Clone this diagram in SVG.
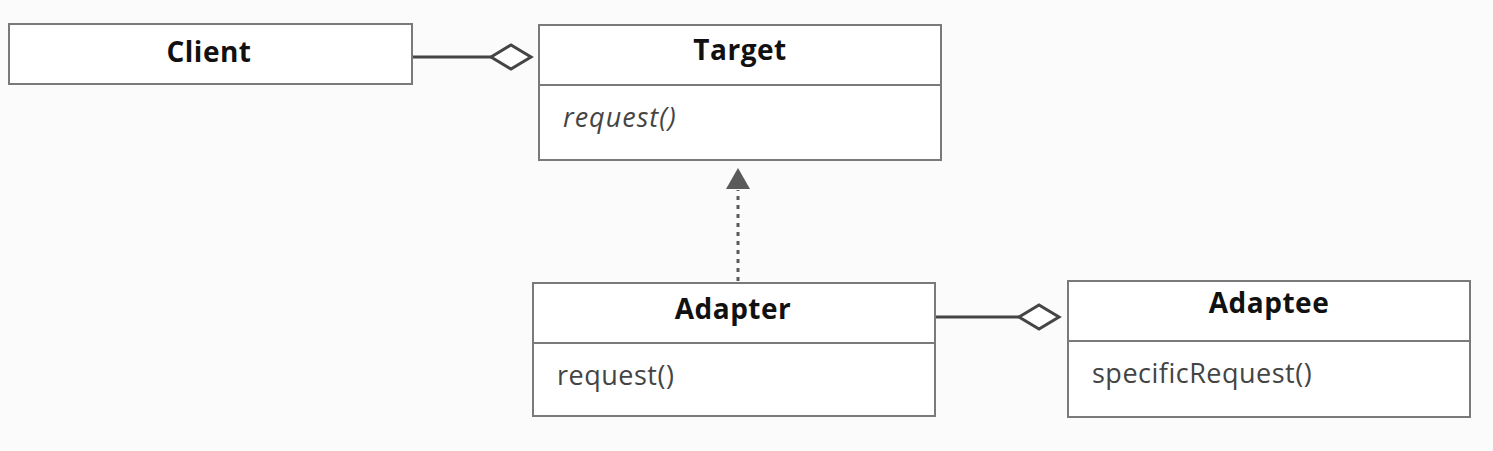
<svg xmlns="http://www.w3.org/2000/svg" width="1493" height="451" viewBox="0 0 1493 451">
<style>
.box{fill:#ffffff;stroke:#7a7a7a;stroke-width:2}
.div{stroke:#7a7a7a;stroke-width:2}
.title{font-family:"Open Sans","Noto Sans","Liberation Sans",sans-serif;font-weight:bold;font-size:28px;letter-spacing:0.5px;fill:#111;text-anchor:middle}
.op{font-family:"Open Sans","Noto Sans","Liberation Sans",sans-serif;font-size:27px;letter-spacing:0.5px;fill:#444}
.it{font-style:italic;letter-spacing:1px}
.assoc{stroke:#454545;stroke-width:3;fill:none}
.diamond{fill:#ffffff;stroke:#454545;stroke-width:3}
.dep{stroke:#5a5a5a;stroke-width:3;stroke-dasharray:4 5;fill:none}
</style>
<rect width="1493" height="451" fill="#fbfbfb"/>
<g id="connectors">
<line class="assoc" x1="412" y1="57" x2="491" y2="57"/>
<polygon class="diamond" points="491,57 511,45 531,57 511,69"/>
<line class="assoc" x1="936" y1="317" x2="1019" y2="317"/>
<polygon class="diamond" points="1019,317 1039,305 1059,317 1039,329"/>
<line class="dep" x1="738" y1="281" x2="738" y2="190"/>
<path d="M738,168 L750,189 L726,189 Z" fill="#5a5a5a"/>
</g>
<g id="client">
<rect class="box" x="9" y="24" width="403" height="60"/>
<text class="title" x="209" y="62">Client</text>
</g>
<g id="target">
<rect class="box" x="539" y="25" width="402" height="135"/>
<line class="div" x1="539" y1="85" x2="941" y2="85"/>
<text class="title" x="740" y="60">Target</text>
<text class="op it" x="563" y="127">request()</text>
</g>
<g id="adapter">
<rect class="box" x="533" y="283" width="402" height="133"/>
<line class="div" x1="533" y1="343" x2="935" y2="343"/>
<text class="title" x="733" y="319">Adapter</text>
<text class="op" x="557" y="385">request()</text>
</g>
<g id="adaptee">
<rect class="box" x="1068" y="281" width="402" height="136"/>
<line class="div" x1="1068" y1="341" x2="1470" y2="341"/>
<text class="title" x="1269" y="313">Adaptee</text>
<text class="op" x="1092" y="383">specificRequest()</text>
</g>
</svg>
